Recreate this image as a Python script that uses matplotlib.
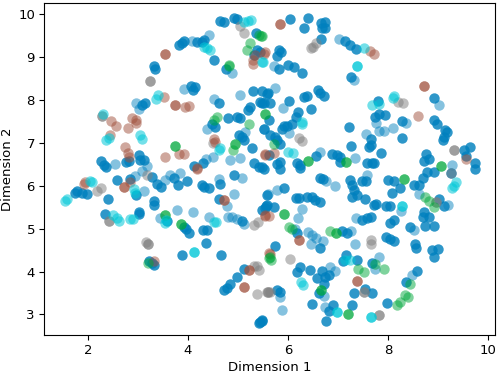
import numpy as np
import matplotlib
matplotlib.use('Agg')
import matplotlib.pyplot as plt

# (dimension 1, dimension 2), one list per cluster colour
# blue = the dark blue dots, blue_pale = the ones that stand alone and look washed out
blue = [
    (4.64,9.84),(4.72,9.82),(4.92,9.90),(4.97,9.88),(4.31,9.39),(4.27,9.36),(4.17,9.36),
    (3.91,9.38),(3.87,9.33),(3.81,9.28),(4.51,8.93),(3.31,8.80),(3.34,8.71),(4.76,8.72),
    (4.05,8.32),(4.14,8.31),(4.09,8.24),(3.07,7.88),(3.14,7.94),(4.61,7.94),
    (5.29,8.22),(5.47,8.21),(5.57,8.15),(5.44,7.96),(5.52,7.92),(5.19,7.76),(5.24,7.84),(4.79,7.58),
    (4.97,7.61),(5.04,7.59),(4.47,7.45),(4.54,7.37),(5.01,7.18),(5.07,7.13),
    (5.11,7.06),(5.27,6.87),(4.29,6.52),(4.11,6.46),(2.25,6.57),
    (2.31,6.48),(2.36,6.44),(2.76,6.56),(2.81,6.57),(3.01,6.71),(3.04,6.60),(3.11,6.60),
    (5.31,6.52),(5.41,6.44),(5.51,6.40),(5.37,9.16),(5.44,9.12),(5.31,9.04),(5.36,9.55),(5.61,6.71),
    (6.04,9.88),(6.39,9.90),(6.32,9.67),(6.65,9.80),(6.73,9.82),(6.74,9.67),(6.67,9.67),(6.66,9.43),
    (7.14,9.38),(7.24,9.28),(7.36,9.18),(5.81,9.16),(5.85,9.12),(5.77,9.02),(5.81,8.73),(5.99,8.81),
    (6.11,8.77),(6.27,8.63),(7.25,8.54),(5.59,8.17),(5.47,7.92),(5.64,7.92),(6.01,7.98),
    (6.31,8.06),(6.37,8.09),(6.59,8.24),(6.64,8.17),(6.71,8.09),(6.45,7.79),(6.19,7.72),(6.16,7.61),
    (5.91,7.39),(5.97,7.39),(6.07,7.45),(5.87,7.33),(5.61,7.53),(5.51,7.33),(5.63,7.18),(5.74,7.14),
    (5.77,7.06),(5.84,6.97),(7.79,7.98),(7.74,7.61),(7.81,7.68),(7.94,7.65),(7.21,7.37),
    (8.27,7.51),(8.27,7.12),(7.65,7.08),(7.61,6.91),(7.65,6.95),
    (7.85,6.77),(7.25,6.93),(6.56,6.70),(6.87,6.73),(6.97,6.71),(7.04,6.67),(7.03,6.56),
    (7.57,6.54),(7.67,6.54),(7.71,6.52),(8.91,8.05),(8.91,7.54),(8.97,7.44),(9.14,7.31),(9.17,7.26),
    (9.11,7.14),(9.09,7.06),(9.63,6.91),(9.51,6.83),(9.56,6.70),(8.75,6.73),(8.82,6.63),(8.71,6.58),(9.73,6.52),
    (5.84,6.56),(5.77,6.50),(6.17,6.52),(6.24,6.48),(5.47,6.44),
    (2.57,6.13),(1.77,5.87),(1.87,5.84),(1.97,5.80),(2.39,5.70),(1.74,5.82),(2.84,6.15),
    (3.27,6.21),(3.37,6.05),(3.45,5.97),(3.71,6.17),(3.79,6.01),(3.97,6.11),
    (4.27,6.01),(4.31,5.96),(4.41,5.95),(4.63,6.03),(4.92,6.25),(2.96,5.78),
    (4.62,5.69),(3.31,5.64),(3.31,5.56),(2.34,5.34),(3.01,5.39),(3.02,5.34),
    (3.57,5.17),(3.91,5.04),(3.95,4.98),(4.02,4.89),(4.29,4.96),(4.37,4.96),
    (5.07,5.18),(4.35,4.66),(3.87,4.39),(4.65,4.38),(3.21,4.25),
    (3.31,4.15),(3.27,4.19),(5.57,5.78),(5.57,5.55),(5.54,5.47),(5.12,4.06),(4.97,3.88),(4.83,3.70),(4.77,3.62),
    (4.72,3.57),(5.47,2.87),(5.41,2.79),(5.44,2.83),
    (5.84,6.39),(6.24,6.42),(6.64,6.17),(6.69,6.15),(7.24,6.13),(7.27,6.01),(7.31,5.90),
    (7.27,5.74),(7.37,5.78),(7.54,5.70),(7.47,6.11),(7.55,6.11),(7.99,6.13),(8.12,6.11),(8.07,5.84),
    (8.24,5.94),(8.51,6.01),(8.61,6.01),(8.69,6.17),(8.77,6.32),(8.91,6.32),(9.25,6.29),(9.73,6.40),
    (5.91,5.95),(6.16,5.72),(6.21,5.72),(6.37,5.73),(6.47,5.74),(6.54,5.66),(6.64,5.63),
    (5.56,5.53),(5.71,5.51),(5.47,5.43),(7.71,5.55),(7.76,5.57),(7.96,5.53),(8.04,5.53),
    (7.47,5.20),(7.57,5.24),(7.66,5.28),(8.04,5.14),(8.11,5.20),(8.71,5.39),(8.69,5.26),
    (8.81,5.28),(8.74,5.07),(8.91,5.07),(8.44,5.03),(9.01,5.70),(9.11,5.53),
    (6.17,4.89),(7.07,4.95),(7.17,4.89),
    (6.64,4.54),(7.96,4.81),(8.04,4.76),(8.11,4.71),(8.53,4.64),(8.56,4.54),(8.87,4.51),(8.99,4.52),
    (8.91,4.34),(5.74,4.60),(7.16,4.38),(7.09,4.25),(7.37,4.27),(7.67,4.19),(6.17,3.98),
    (6.24,4.11),(6.43,4.03),(6.57,3.85),(6.67,4.01),(6.74,3.88),(6.81,3.93),(6.71,3.72),
    (6.61,3.51),(8.57,4.01),(8.35,3.76),(5.77,3.57),(5.84,3.53),(7.31,3.49),
    (7.67,3.49),(7.54,3.59),(6.47,3.24),(7.27,3.23),(7.97,3.26),(6.82,3.08),(6.89,3.22),
    (6.76,2.85),(5.47,2.84),
]
blue_pale = [
    (4.41,9.51),(4.07,9.38),(4.87,8.63),(3.92,8.25),(2.95,7.93),(3.01,7.80),(4.51,8.03),(5.04,8.11),
    (4.37,7.33),(5.51,7.33),(5.14,7.26),(4.84,6.61),(5.04,6.64),(4.49,6.67),(4.35,6.62),(2.54,6.50),
    (3.17,6.46),(7.01,9.42),(5.72,8.79),(7.32,8.46),(5.73,8.29),(5.89,7.82),(6.01,7.22),(7.76,7.47),
    (7.81,7.27),(7.91,7.27),(8.09,7.35),(8.35,7.47),(7.56,7.20),(7.34,6.65),(6.63,6.79),(9.02,7.88),
    (9.27,6.48),(2.94,6.22),(3.07,6.35),(3.64,6.26),(3.83,6.30),(3.54,6.13),(5.07,6.17),(4.61,6.15),
    (4.92,5.80),(3.12,5.88),(3.77,5.43),(4.09,5.38),(4.42,5.28),(3.44,5.25),(4.79,5.28),(4.87,5.26),
    (4.97,5.22),(5.12,5.10),(4.77,5.52),(6.94,5.99),(5.59,5.80),(5.77,5.90),(6.27,5.45),(6.19,5.25),
    (7.36,5.25),(6.45,4.63),(7.33,4.64),(6.39,4.93),(6.47,4.85),(6.56,4.79),(6.69,4.71),(5.87,3.10),
    (6.74,3.18),(6.94,4.01),(6.84,4.11),(7.73,4.06),(7.81,4.33),(8.47,3.93),(8.61,5.80),(9.19,5.56),
    (7.57,6.25),(6.75,6.11),(6.72,3.43),(5.83,3.41),(7.25,4.94),(6.14,5.00),(8.25,5.41),(8.51,4.96),
]
cyan = [
    (5.11,9.82),(5.19,9.84),(5.25,9.86),(4.31,9.24),(4.37,9.20),(4.44,9.16),(5.47,8.89),(3.39,8.11),(3.36,8.03),
    (2.35,7.06),(2.41,7.12),(3.04,7.18),(3.08,7.10),(4.64,6.87),(4.61,6.83),(2.29,7.68),(7.52,9.22),(7.37,8.79),
    (7.37,8.79),(8.11,8.10),(8.09,8.05),(7.67,7.88),(7.81,7.90),(6.27,7.49),(6.27,7.45),(5.99,6.79),(6.09,6.77),
    (5.49,8.89),(1.57,5.68),(1.54,5.65),(2.04,6.11),(2.07,6.09),(2.49,5.31),(2.57,5.24),(2.62,5.17),(2.83,5.22),
    (2.89,5.22),(2.91,5.92),(2.94,5.82),(3.53,5.12),(3.56,5.20),(4.52,5.16),(4.55,5.16),(4.11,4.46),(4.11,4.46),
    (9.36,6.08),(9.27,5.94),(9.32,5.99),(8.27,5.53),(8.27,5.53),(7.14,4.27),(7.23,4.28),(6.26,3.76),(6.29,3.68),
    (6.97,3.06),(6.97,3.06),(7.66,2.94),(7.66,2.94),
]
green = [
    (5.41,9.51),(5.46,9.50),(5.24,9.32),(5.17,9.16),(4.81,8.81),(4.81,8.78),(5.54,7.67),(5.54,7.67),(4.57,7.61),
    (5.21,7.45),(4.94,6.98),(4.94,6.98),(4.89,6.83),(3.73,6.92),(3.73,6.92),(4.51,7.53),(5.47,9.49),(5.71,6.97),
    (6.39,6.58),(6.39,6.58),(7.16,6.56),(7.16,6.56),(9.05,6.46),(9.05,6.46),(3.54,5.31),(3.54,5.31),(3.85,5.10),
    (3.85,5.10),(3.19,4.20),(5.61,4.32),(8.31,6.15),(8.31,6.15),(8.74,5.74),(8.81,5.64),(8.92,5.51),(5.92,5.35),
    (5.92,5.35),(6.01,5.03),(6.07,4.99),(6.84,4.94),(6.96,4.89),(6.96,4.89),(5.63,4.33),(5.65,4.28),(7.39,4.07),
    (7.51,3.99),(7.74,4.17),(7.91,4.06),(8.44,3.70),(8.34,3.45),(8.39,3.40),(8.23,3.30),(8.17,3.22),(6.65,3.58),
    (6.65,3.58),(7.19,3.00),(7.19,3.00),
]
brown = [
    (3.53,9.07),(3.53,9.07),(5.51,9.08),(5.34,9.04),(5.29,8.93),(5.29,8.83),(3.51,8.06),(3.74,7.88),(3.74,7.88),
    (3.94,7.84),(4.01,7.86),(2.46,7.51),(2.56,7.40),(2.87,7.58),(2.96,7.53),(2.96,7.47),(2.79,7.35),(2.44,7.19),
    (2.74,6.91),(2.79,6.77),(2.81,6.67),(3.54,6.66),(3.81,6.74),(3.91,6.74),(4.51,7.10),(4.54,7.02),(4.17,6.42),
    (5.54,6.71),(5.83,9.77),(5.83,9.77),(7.64,9.14),(7.71,9.08),(8.71,8.33),(8.71,8.33),(8.60,7.62),(5.54,9.12),
    (5.54,6.74),(5.72,6.77),(9.55,6.63),(1.91,6.03),(1.94,6.09),(2.71,5.97),(2.71,5.97),(2.84,6.09),(4.17,6.39),
    (4.71,5.66),(4.71,5.66),(5.54,5.31),(5.21,4.03),(5.21,4.03),(5.11,3.65),(5.11,3.65),(3.31,4.25),(5.61,4.44),
    (5.54,5.30),(5.61,5.29),(6.22,4.73),(6.22,4.73),(5.63,4.42),(7.37,3.78),(7.37,3.78),
]
gray = [
    (3.24,8.45),(3.24,8.45),(2.27,7.63),(2.27,7.63),(5.04,9.72),(5.11,9.57),(4.49,7.00),(6.56,9.33),(6.45,9.21),
    (6.49,9.24),(8.19,7.96),(8.29,7.92),(6.21,7.12),(6.27,7.04),(9.32,6.84),(9.32,6.84),(2.17,5.88),(2.26,5.94),
    (3.17,6.25),(2.41,5.17),(2.41,5.17),(3.16,4.69),(3.19,4.64),(3.19,4.64),(5.31,5.08),(5.39,5.16),(5.31,4.13),
    (5.37,4.13),(5.41,4.03),(5.37,3.48),(5.57,3.52),(5.64,3.52),(9.25,6.30),(8.96,5.61),(8.96,5.61),(7.66,4.73),
    (7.65,4.65),(6.04,4.30),(5.59,3.52),(5.59,3.52),(7.51,3.53),(7.51,3.53),(7.81,2.98),(7.81,2.98),
]
xticks = [2, 4, 6, 8, 10]
yticks = [3, 4, 5, 6, 7, 8, 9, 10]

fig = plt.figure(figsize=(4.98, 3.77), dpi=100)
ax = fig.add_axes([44/498, 1-335/377, (495-44)/498, (335-3)/377])

layers = [(blue_pale, '#0080BE', 0.48), (blue, '#0080BE', 0.82), (gray, '#7F7F7F', 0.5),
          (brown, '#A0503C', 0.5), (green, '#00A83C', 0.5), (cyan, '#00C8D8', 0.55)]
for pts, col, a in layers:
    p = np.array(pts)
    ax.scatter(p[:, 0], p[:, 1], s=56, c=col, alpha=a, linewidths=0)

ax.set_xlim(1.12, 10.14)
ax.set_ylim(2.52, 10.26)
ax.set_xticks(xticks)
ax.set_yticks(yticks)
ax.tick_params(labelsize=9.5, length=3.5, pad=3)
ax.set_xlabel('Dimension 1', fontsize=9.5, labelpad=3)
ax.set_ylabel('Dimension 2', fontsize=9.5, labelpad=3)

fig.savefig('out.png', dpi=100)
